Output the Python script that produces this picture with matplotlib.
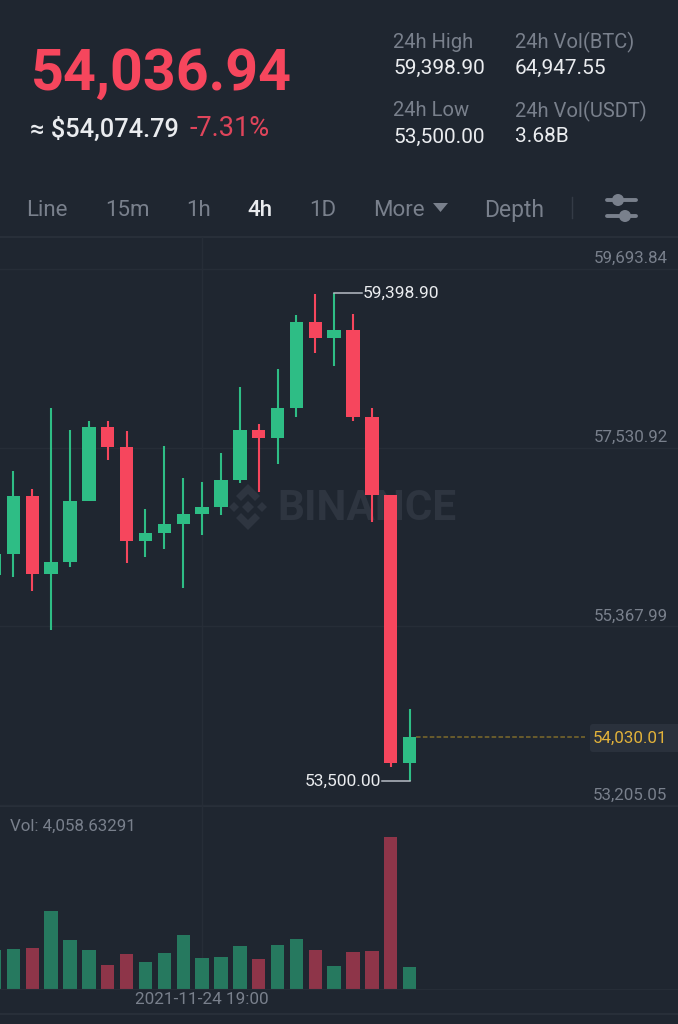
import matplotlib
matplotlib.use("Agg")
import matplotlib.pyplot as plt
from matplotlib.patches import Polygon, Rectangle, FancyBboxPatch

# Values
opens = [55990, 56240, 56945, 56002, 56144, 56881, 57776, 57541, 56398, 56494, 56607, 56724,
         56816, 57135, 57747, 57646, 58005, 59045, 58851, 58955, 57900, 56957, 53714]
closes = [56240, 56945, 56002, 56144, 56881, 57776, 57541, 56398, 56494, 56607, 56724, 56816,
          57135, 57747, 57646, 58005, 59045, 58851, 58955, 57900, 56957, 53714, 54030.01]
highs = [56240, 57251, 57030, 58005, 57743, 57852, 57852, 57731, 56788, 57553, 57159, 57111,
         57469, 58266, 57815, 58477, 59133, 59387, 59398.90, 59145, 58005, 56957, 54367]
lows = [55990, 55970, 55800, 55325, 56090, 56881, 57380, 56132, 56211, 56308, 55829, 56474,
        56715, 57106, 56997, 57328, 57896, 58670, 58520, 57855, 56634, 53673, 53500]
volumes = [7090, 7270, 7390, 14120, 8910, 7030, 4420, 6300, 4910, 6540, 9880, 5570,
           5880, 7820, 5450, 8060, 9030, 7030, 4180, 6660, 6910, 27570, 4058.63291]

price_ticks = [59693.84, 57530.92, 55367.99, 53205.05]
last_price = 54030.01
high_price = 59398.90
low_price = 53500.00
date_index = 11
date_label = "2021-11-24 19:00"
tabs = ["Line", "15m", "1h", "4h", "1D", "More", "Depth"]
stats = [("24h High", "59,398.90"), ("24h Vol(BTC)", "64,947.55"),
         ("24h Low", "53,500.00"), ("24h Vol(USDT)", "3.68B")]

BG = "#1f2630"
GRID = "#262d37"
LINE = "#2a313c"
GREEN = "#2ebd85"
RED = "#f6465d"
VOL_GREEN = "#26795f"
VOL_RED = "#8e3549"
MUTED = "#79808c"
WHITE = "#eaecef"

plt.rcParams["font.family"] = ["Roboto", "DejaVu Sans"]

W, H = 678, 1024
fig = plt.figure(figsize=(W / 100, H / 100), dpi=100, facecolor=BG)

# Backdrop in pixel coordinates for header, tabs and watermark
bg = fig.add_axes([0, 0, 1, 1], facecolor=BG)
bg.set_xlim(0, W)
bg.set_ylim(H, 0)
bg.axis("off")


def px_text(x, y, s, size, color, weight="normal", ha="left"):
    bg.text(x, y + 2, s, fontsize=size, color=color, fontweight=weight, ha=ha, va="center")


# Header
px_text(31, 72, "54,036.94", 41.3, RED, "bold")
px_text(30, 127, "≈ $54,074.79", 18.3, WHITE, "medium")
px_text(189, 127, "-7.31%", 19.5, "#e0455b")
stat_pos = [(393, 40), (515, 40), (393, 109), (515, 109)]
for (label, value), (sx, sy) in zip(stats, stat_pos):
    px_text(sx, sy, label, 14.5, MUTED)
    px_text(sx, sy + 26, value, 15, WHITE)

# Tabs
tab_x = [26, 105, 186, 247, 309, 373, 484]
for name, tx in zip(tabs, tab_x):
    if name == "4h":
        px_text(tx, 209, name, 16, WHITE, "medium")
    else:
        px_text(tx, 209, name, 16.5 if name == "Depth" else 16, MUTED)
bg.add_patch(Polygon([(433, 203), (448, 203), (440.5, 212)], color=MUTED, lw=0))
bg.plot([572, 572], [197, 218], color="#343b46", lw=1)
for iy, kx in [(200, 618), (216, 625)]:
    bg.plot([607, 636], [iy, iy], color=MUTED, lw=2.8, solid_capstyle="round")
    bg.add_patch(plt.Circle((kx, iy), 6, color=MUTED, lw=0))

# Dividers
for ly in [237, 806, 1014]:
    bg.plot([0, W], [ly, ly], color=LINE, lw=1.2)

# Watermark
WM = "#2e3540"
cx, cy = 248, 507
for dx, dy, r in [(0, 0, 6), (-14, 0, 5), (14, 0, 5)]:
    bg.add_patch(Polygon([(cx + dx - r, cy + dy), (cx + dx, cy + dy - r),
                          (cx + dx + r, cy + dy), (cx + dx, cy + dy + r)], color=WM, lw=0))
bg.add_patch(Polygon([(cx, cy - 23), (cx + 12, cy - 11), (cx + 7, cy - 6), (cx, cy - 13),
                      (cx - 7, cy - 6), (cx - 12, cy - 11)], color=WM, lw=0))
bg.add_patch(Polygon([(cx, cy + 23), (cx + 12, cy + 11), (cx + 7, cy + 6), (cx, cy + 13),
                      (cx - 7, cy + 6), (cx - 12, cy + 11)], color=WM, lw=0))
bg.text(277, 509, "BINANCE", fontsize=30.4, color=WM, fontweight="bold", va="center")

# Price panel
XMIN, XMAX = 0.291, 36.22
ax = fig.add_axes([0, 1 - 806 / H, 1, (806 - 237) / H])
ax.patch.set_alpha(0)
ax.set_xlim(XMIN, XMAX)
ax.set_ylim(53198, 60076)
for s in ax.spines.values():
    s.set_visible(False)
ax.set_xticks([date_index])
ax.set_yticks(price_ticks)
ax.tick_params(length=0, labelleft=False, labelbottom=False)
ax.grid(True, color=GRID, lw=1)
ax.set_axisbelow(True)

for i, (o, c, h, l) in enumerate(zip(opens, closes, highs, lows)):
    col = GREEN if c >= o else RED
    ax.plot([i, i], [l, h], color=col, lw=1.5, solid_capstyle="butt", zorder=3)
    ax.add_patch(Rectangle((i - 0.355, min(o, c)), 0.71, abs(c - o), color=col, lw=0, zorder=4))

for p in price_ticks:
    ax.annotate(f"{p:,.2f}", xy=(1, p), xycoords=ax.get_yaxis_transform(),
                xytext=(-7.5, 2), textcoords="offset points", ha="right", va="bottom",
                fontsize=12.2, color=MUTED)

# High / low leaders
hi_i = highs.index(high_price)
lo_i = lows.index(low_price)
ax.plot([hi_i, hi_i + 1.45], [high_price, high_price], color="#b7bdc6", lw=1.1, zorder=5)
ax.text(hi_i + 1.5, high_price, f"{high_price:,.2f}", fontsize=12.5, color=WHITE, va="center", zorder=5)
ax.plot([lo_i, lo_i - 1.45], [low_price, low_price], color="#b7bdc6", lw=1.1, zorder=5)
ax.text(lo_i - 1.5, low_price, f"{low_price:,.2f}", fontsize=12.5, color=WHITE, va="center", ha="right", zorder=5)

# Last price line and tag
ax.plot([len(closes) - 1 + 0.35, 31.3], [last_price, last_price], color="#7d6b2c", lw=1.1, ls=(0, (3, 1.5)), zorder=2)
bg.add_patch(FancyBboxPatch((590, 724), 95, 28, boxstyle="round,pad=0,rounding_size=3", color="#2a313c", lw=0))
ax.annotate(f"{last_price:,.2f}", xy=(1, last_price), xycoords=ax.get_yaxis_transform(),
            xytext=(-7.5, -1), textcoords="offset points", ha="right", va="center",
            fontsize=12.2, color="#e2b23a", zorder=6)

# Volume panel
vax = fig.add_axes([0, 1 - 989 / H, 1, (989 - 806) / H])
vax.patch.set_alpha(0)
vax.set_xlim(XMIN, XMAX)
vax.set_ylim(0, 33300)
for s in vax.spines.values():
    s.set_visible(False)
vax.spines["bottom"].set_visible(True)
vax.spines["bottom"].set_color(GRID)
vax.set_yticks([])
vax.set_xticks([date_index])
vax.set_xticklabels([date_label], fontsize=12.3, color=MUTED)
vax.tick_params(length=0, pad=2)
vax.grid(True, axis="x", color=GRID, lw=1)
vax.set_axisbelow(True)
vol_colors = [VOL_GREEN if c >= o else VOL_RED for o, c in zip(opens, closes)]
vax.bar(range(len(volumes)), volumes, width=0.71, color=vol_colors)
vax.text(10 / W, 1 - 20 / 183, f"Vol: {volumes[-1]:,.5f}", transform=vax.transAxes,
         fontsize=12.2, color=MUTED, va="center")

fig.savefig("out.png", dpi=100, facecolor=BG)
